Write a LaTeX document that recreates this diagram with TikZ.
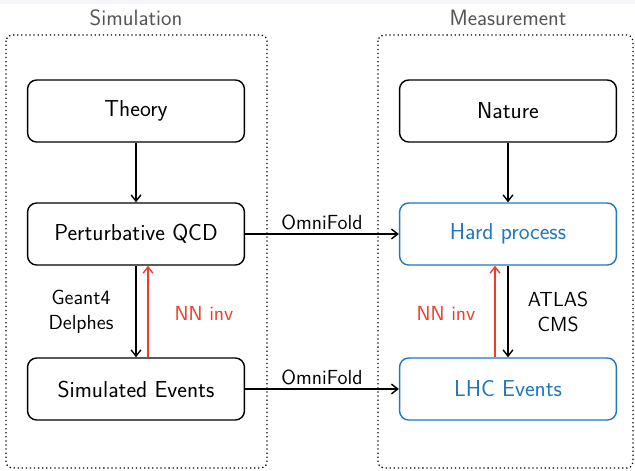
\documentclass[tikz,border=0pt]{standalone}
\usetikzlibrary{arrows.meta,calc}
\definecolor{bluebox}{RGB}{31,119,190}
\definecolor{redarr}{RGB}{240,60,40}
\definecolor{titlegray}{RGB}{85,85,85}
\definecolor{stripgray}{RGB}{244,246,249}
\begin{document}
\begin{tikzpicture}[x=0.025cm,y=-0.025cm,
  font=\sffamily\fontsize{16.4}{19}\selectfont,
  stage/.style={draw, line width=1pt, rounded corners=6.5pt, minimum width=5.42cm, minimum height=1.55cm, inner sep=0pt},
  bluestage/.style={stage, draw=bluebox, text=bluebox},
  group/.style={draw, dotted, line width=0.9pt, rounded corners=4pt},
  arr/.style={-{Straight Barb[length=4.5pt,width=7pt]}, line width=1pt},
  redarrow/.style={arr, draw=redarr},
  lbl/.style={font=\sffamily\fontsize{14.5}{18}\selectfont, align=center},
  title/.style={text=titlegray, font=\sffamily\fontsize{15.8}{18}\selectfont}
]
\useasboundingbox (0,0) rectangle (635,470);
\fill[stripgray] (0,0) rectangle (635,4);
% groups
\draw[group] (6,35) rectangle (267,468);
\draw[group] (378,35) rectangle (633,468);
\node[title] (tsim) at (136,18) {Simulation};
\node[title] (tmeas) at (508,18) {Measurement};
% nodes
\node[stage] (theory) at (136,111) {Theory};
\node[stage] (pqcd) at (136,234) {Perturbative QCD};
\node[stage] (sim) at (136,389) {Simulated Events};
\node[stage] (nature) at (508,111) {Nature};
\node[bluestage] (hard) at (508,234) {Hard process};
\node[bluestage] (lhc) at (508,389) {LHC Events};
% arrows
\draw[arr] (theory) -- (pqcd);
\draw[arr] (nature) -- (hard);
\draw[arr] (pqcd.south) -- (sim.north);
\draw[redarrow] ($(sim.north)+(12,0)$) -- ($(pqcd.south)+(12,0)$);
\draw[arr] (hard.south) -- (lhc.north);
\draw[redarrow] ($(lhc.north)+(-13,0)$) -- ($(hard.south)+(-13,0)$);
\draw[arr] (pqcd) -- node[above, lbl, yshift=-1pt] (of1) {OmniFold} (hard);
\draw[arr] (sim) -- node[above, lbl, yshift=-1pt] (of2) {OmniFold} (lhc);
\node[lbl] (geant) at (81,312) {Geant4\\Delphes};
\node[lbl, text=redarr] (nn1) at (204,313) {NN inv};
\node[lbl, text=redarr] (nn2) at (446,313) {NN inv};
\node[lbl] (atlas) at (558,312) {ATLAS\\CMS};
\end{tikzpicture}
\end{document}
